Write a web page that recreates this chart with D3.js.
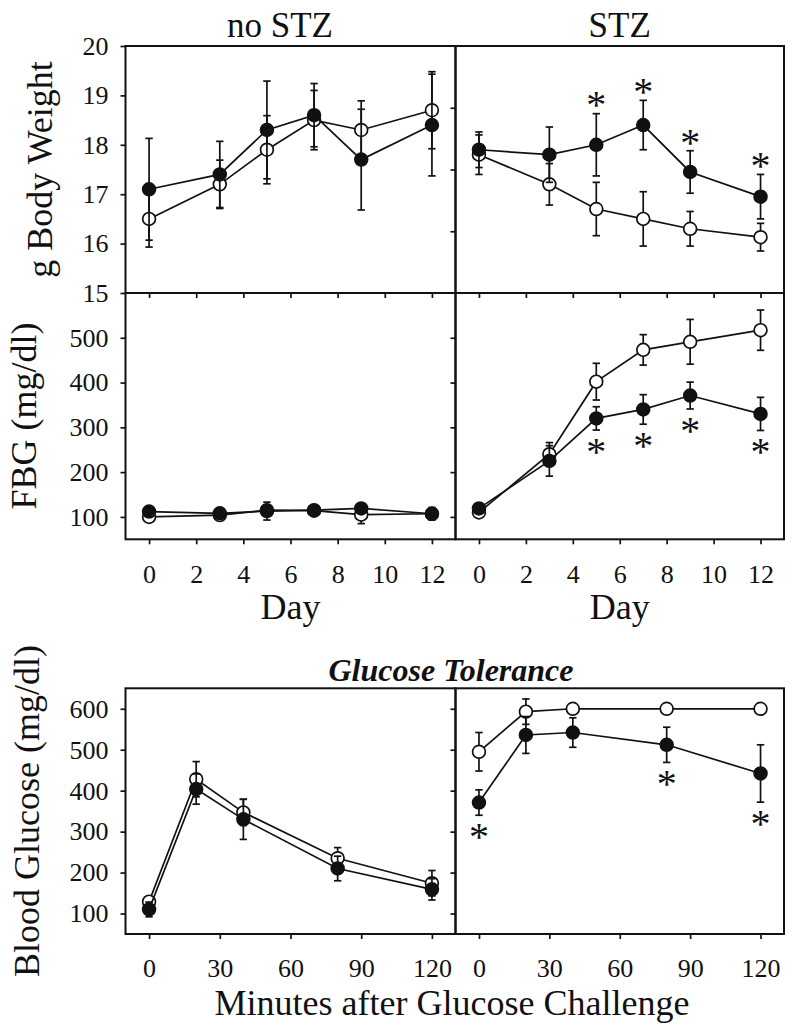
<!DOCTYPE html>
<html>
<head>
<meta charset="utf-8">
<script src="https://cdn.jsdelivr.net/npm/d3@7"></script>
<style>
  body { margin: 0; background: #fff; }
  text { font-family: "Liberation Serif", "Times New Roman", serif; fill: #111; }
</style>
</head>
<body>
<div id="chart"></div>
<script>
// x values
const days = [0, 3, 5, 7, 9, 12];
const minutes = [0, 20, 40, 80, 120];

// body weight (g), open = control group, filled = treated group
const weightNoStzOpen = [16.5, 17.2, 17.9, 18.5, 18.3, 18.7];
const weightNoStzOpenSe = [0.57, 0.49, 0.69, 0.6, 0.59, 0.78];
const weightNoStzFilled = [17.1, 17.4, 18.3, 18.6, 17.7, 18.4];
const weightNoStzFilledSe = [1.03, 0.67, 0.99, 0.64, 1.02, 1.03];
const weightStzOpen = [17.8, 17.2, 16.7, 16.5, 16.3, 16.13];
const weightStzOpenSe = [0.4, 0.42, 0.54, 0.55, 0.35, 0.28];
const weightStzFilled = [17.9, 17.8, 18.0, 18.4, 17.45, 16.95];
const weightStzFilledSe = [0.36, 0.56, 0.63, 0.5, 0.43, 0.45];
const weightStzSig = [0, 0, 1, 1, 1, 1];

// fasting blood glucose (mg/dl)
const fbgNoStzOpen = [100, 104, 115, 114, 105, 107];
const fbgNoStzOpenSe = [8, 8, 10, 8, 20, 10];
const fbgNoStzFilled = [112, 108, 113, 115, 119, 107];
const fbgNoStzFilledSe = [8, 8, 20, 10, 8, 14];
const fbgStzOpen = [110, 240, 402, 473, 491, 517];
const fbgStzOpenSe = [8, 26, 41, 34, 50, 45];
const fbgStzFilled = [119, 225, 320, 340, 371, 330];
const fbgStzFilledSe = [8, 34, 26, 33, 30, 37];
const fbgStzSig = [0, 0, 1, 1, 1, 1];

// glucose tolerance test (mg/dl)
const gttNoStzOpen = [129, 428, 347, 235, 174];
const gttNoStzOpenSe = [10, 43, 32, 26, 31];
const gttNoStzFilled = [110, 404, 330, 210, 159];
const gttNoStzFilledSe = [18, 37, 49, 30, 26];
const gttStzOpen = [495, 593, 600, 600, 600];
const gttStzOpenSe = [47, 31, 0, 0, 0];
const gttStzFilled = [371, 536, 542, 512, 442];
const gttStzFilledSe = [31, 45, 36, 43, 70];
const gttStzSig = [1, 0, 0, 1, 1];

// ticks
const dayTicks = [0, 2, 4, 6, 8, 10, 12];
const minuteTicks = [0, 30, 60, 90, 120];
const weightTicks = [15, 16, 17, 18, 19, 20];
const weightTicksStz = [16.25, 17.5, 18.75];
const fbgTicks = [100, 200, 300, 400, 500];
const gttTicks = [100, 200, 300, 400, 500, 600];

const width = 800, height = 1031;
const leftCol = [125.5, 455.5], rightCol = [455.5, 784];

const svg = d3.select("#chart")
    .append("svg")
    .attr("width", width)
    .attr("height", height);

function drawPanel(cfg) {
    const g = svg.append("g");
    const x = d3.scaleLinear().domain(cfg.xDomain).range(cfg.xRange);
    const y = d3.scaleLinear().domain(cfg.yDomain).range(cfg.yRange);

    const yAxis = g.append("g")
        .attr("transform", "translate(" + cfg.xRange[0] + ",0)")
        .call(d3.axisLeft(y).tickValues(cfg.yTicks).tickSize(5).tickPadding(12)
            .tickFormat(cfg.yLabels ? d3.format("d") : ""));
    const xAxis = g.append("g")
        .attr("transform", "translate(0," + cfg.yRange[0] + ")")
        .call(d3.axisBottom(x).tickValues(cfg.xTicks).tickSize(5).tickPadding(20)
            .tickFormat(cfg.xLabels ? d3.format("d") : ""));
    [yAxis, xAxis].forEach(a => {
        a.attr("font-family", null).attr("font-size", null);
        a.select(".domain").remove();
        a.selectAll("line").attr("stroke", "#111").attr("stroke-width", 1.7);
        a.selectAll("text").style("font-size", "26px");
    });

    g.append("rect")
        .attr("x", cfg.xRange[0])
        .attr("y", cfg.yRange[1])
        .attr("width", cfg.xRange[1] - cfg.xRange[0])
        .attr("height", cfg.yRange[0] - cfg.yRange[1])
        .attr("fill", "none")
        .attr("stroke", "#111")
        .attr("stroke-width", 2);

    const line = d3.line().x(d => x(d.x)).y(d => y(d.v));

    cfg.series.forEach(s => {
        const pts = cfg.xs.map((xv, i) => ({ x: xv, v: s.values[i], se: s.se[i] }));
        g.append("path")
            .datum(pts)
            .attr("d", line)
            .attr("fill", "none")
            .attr("stroke", "#111")
            .attr("stroke-width", 1.7);

        const bars = g.append("g").selectAll("g")
            .data(pts.filter(d => d.se > 0))
            .enter()
            .append("g")
            .attr("stroke", "#111")
            .attr("stroke-width", 1.7);
        bars.append("line")
            .attr("x1", d => x(d.x)).attr("x2", d => x(d.x))
            .attr("y1", d => y(d.v - d.se)).attr("y2", d => y(d.v + d.se));
        bars.append("line")
            .attr("x1", d => x(d.x) - 3.7).attr("x2", d => x(d.x) + 3.7)
            .attr("y1", d => y(d.v + d.se)).attr("y2", d => y(d.v + d.se));
        bars.append("line")
            .attr("x1", d => x(d.x) - 3.7).attr("x2", d => x(d.x) + 3.7)
            .attr("y1", d => y(d.v - d.se)).attr("y2", d => y(d.v - d.se));

        g.append("g").selectAll("circle")
            .data(pts)
            .enter()
            .append("circle")
            .attr("cx", d => x(d.x))
            .attr("cy", d => y(d.v))
            .attr("r", 6.4)
            .attr("fill", s.filled ? "#111" : "#fff")
            .attr("stroke", "#111")
            .attr("stroke-width", 1.7);
    });

    if (cfg.sig) {
        const ref = cfg.series[cfg.series.length - 1];
        const fs = 40;
        g.append("g").selectAll("text")
            .data(cfg.xs.map((xv, i) => ({ x: xv, v: ref.values[i], se: ref.se[i], sig: cfg.sig[i] }))
                .filter(d => d.sig))
            .enter()
            .append("text")
            .attr("x", d => x(d.x))
            .attr("y", d => cfg.starAbove
                ? y(d.v + d.se) - 14 + 0.47 * fs
                : y(d.v - d.se) + 16 + 0.47 * fs)
            .attr("text-anchor", "middle")
            .style("font-size", fs + "px")
            .text("*");
    }
}

// body weight row
drawPanel({
    xs: days, xDomain: [-1, 13], xRange: leftCol, xTicks: dayTicks, xLabels: false,
    yDomain: [15, 20], yRange: [293, 46], yTicks: weightTicks, yLabels: true,
    series: [
        { values: weightNoStzOpen, se: weightNoStzOpenSe, filled: false },
        { values: weightNoStzFilled, se: weightNoStzFilledSe, filled: true }
    ]
});
drawPanel({
    xs: days, xDomain: [-1, 13], xRange: rightCol, xTicks: dayTicks, xLabels: false,
    yDomain: [15, 20], yRange: [293, 46], yTicks: weightTicksStz, yLabels: false,
    series: [
        { values: weightStzOpen, se: weightStzOpenSe, filled: false },
        { values: weightStzFilled, se: weightStzFilledSe, filled: true }
    ],
    sig: weightStzSig, starAbove: true
});

// fasting glucose row
drawPanel({
    xs: days, xDomain: [-1, 13], xRange: leftCol, xTicks: dayTicks, xLabels: true,
    yDomain: [50, 600], yRange: [539.3, 293], yTicks: fbgTicks, yLabels: true,
    series: [
        { values: fbgNoStzOpen, se: fbgNoStzOpenSe, filled: false },
        { values: fbgNoStzFilled, se: fbgNoStzFilledSe, filled: true }
    ]
});
drawPanel({
    xs: days, xDomain: [-1, 13], xRange: rightCol, xTicks: dayTicks, xLabels: true,
    yDomain: [50, 600], yRange: [539.3, 293], yTicks: fbgTicks, yLabels: false,
    series: [
        { values: fbgStzOpen, se: fbgStzOpenSe, filled: false },
        { values: fbgStzFilled, se: fbgStzFilledSe, filled: true }
    ],
    sig: fbgStzSig, starAbove: false
});

// glucose tolerance row
drawPanel({
    xs: minutes, xDomain: [-10, 130], xRange: leftCol, xTicks: minuteTicks, xLabels: true,
    yDomain: [50, 650], yRange: [934, 688.3], yTicks: gttTicks, yLabels: true,
    series: [
        { values: gttNoStzOpen, se: gttNoStzOpenSe, filled: false },
        { values: gttNoStzFilled, se: gttNoStzFilledSe, filled: true }
    ]
});
drawPanel({
    xs: minutes, xDomain: [-10, 130], xRange: rightCol, xTicks: minuteTicks, xLabels: true,
    yDomain: [50, 650], yRange: [934, 688.3], yTicks: gttTicks, yLabels: false,
    series: [
        { values: gttStzOpen, se: gttStzOpenSe, filled: false },
        { values: gttStzFilled, se: gttStzFilledSe, filled: true }
    ],
    sig: gttStzSig, starAbove: false
});

// titles and axis labels
svg.append("text").attr("x", 280).attr("y", 37).attr("text-anchor", "middle")
    .style("font-size", "35px").text("no STZ");
svg.append("text").attr("x", 619.7).attr("y", 37).attr("text-anchor", "middle")
    .style("font-size", "35px").text("STZ");

svg.append("text").attr("x", 290.5).attr("y", 619).attr("text-anchor", "middle")
    .style("font-size", "36px").text("Day");
svg.append("text").attr("x", 619.7).attr("y", 619).attr("text-anchor", "middle")
    .style("font-size", "36px").text("Day");

svg.append("text").attr("x", 452).attr("y", 1015).attr("text-anchor", "middle")
    .style("font-size", "36px").text("Minutes after Glucose Challenge");

svg.append("text").attr("x", 451).attr("y", 681).attr("text-anchor", "middle")
    .style("font-size", "32px").style("font-weight", "bold").style("font-style", "italic")
    .text("Glucose Tolerance");

svg.append("text").attr("transform", "translate(52,169.5) rotate(-90)")
    .attr("text-anchor", "middle").style("font-size", "36px").text("g Body Weight");
svg.append("text").attr("transform", "translate(36,416) rotate(-90)")
    .attr("text-anchor", "middle").style("font-size", "36px").text("FBG (mg/dl)");
svg.append("text").attr("transform", "translate(39,811) rotate(-90)")
    .attr("text-anchor", "middle").style("font-size", "36px").text("Blood Glucose (mg/dl)");
</script>
</body>
</html>
